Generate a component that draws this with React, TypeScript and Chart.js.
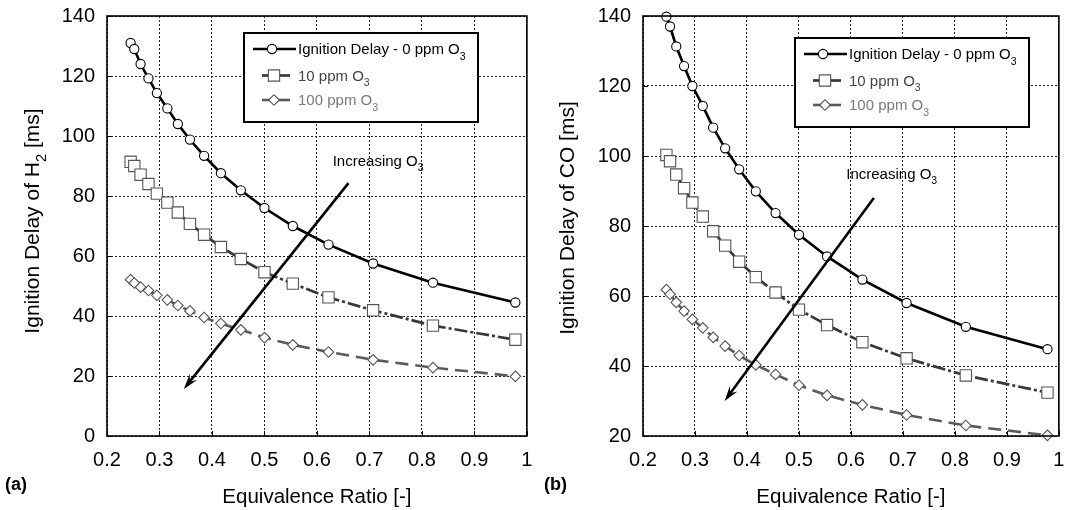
import React, { useEffect, useRef } from "react";
import { Chart, registerables } from "chart.js";

Chart.register(...registerables);

const FONT = '"Liberation Sans", Arial, Helvetica, sans-serif';

// ---------------- data ----------------
const phi = [0.245, 0.252, 0.264, 0.279, 0.295, 0.315, 0.335, 0.358, 0.385, 0.417, 0.455, 0.5, 0.554, 0.622, 0.707, 0.821, 0.978];

const h2_0ppm = [131, 129, 124, 119.2, 114.3, 109.2, 104, 98.8, 93.4, 87.6, 81.9, 76, 70, 63.8, 57.5, 51.1, 44.5];
const h2_10ppm = [91.4, 90, 87.1, 84, 80.8, 77.8, 74.5, 70.7, 67.1, 63, 59, 54.6, 50.8, 46.2, 41.9, 36.8, 32.1];
const h2_100ppm = [52.1, 51, 49.6, 48.5, 46.9, 45.4, 43.5, 41.7, 39.5, 37.5, 35.4, 32.8, 30.4, 28, 25.4, 22.8, 19.9];

const co_0ppm = [139.8, 137, 131.3, 125.7, 120, 114.3, 108.1, 102.2, 96.2, 89.9, 83.7, 77.5, 71.3, 64.7, 58, 51.2, 44.8];
const co_10ppm = [100.3, 98.5, 94.7, 90.8, 86.7, 82.7, 78.5, 74.4, 69.8, 65.4, 61, 56.1, 51.7, 46.8, 42.2, 37.3, 32.4];
const co_100ppm = [61.8, 60.5, 58.2, 55.7, 53.3, 50.9, 48.2, 45.7, 43, 40.3, 37.6, 34.5, 31.6, 28.9, 26, 23, 20.2];

const xTickValues = [0.2, 0.3, 0.4, 0.5, 0.6, 0.7, 0.8, 0.9, 1];
const yTicksH2 = [0, 20, 40, 60, 80, 100, 120, 140];
const yTicksCO = [20, 40, 60, 80, 100, 120, 140];

const seriesLabels = ["Ignition Delay - 0 ppm O", "10 ppm O", "100 ppm O"];
const seriesSub = "3";

// arrow "Increasing O3" endpoints (data units: [start, end])
const arrowH2X = [0.66, 0.3465];
const arrowH2Y = [84.3, 15.7];
const arrowCOX = [0.644, 0.357];
const arrowCOY = [88, 30];
// note anchor (left edge, middle) in data units
const noteH2 = [0.63, 91.8];
const noteCO = [0.591, 95.1];

// ---------------- helpers ----------------
type Part = { t: string; sub?: boolean };

function partsWidth(ctx: CanvasRenderingContext2D, parts: Part[], size: number, weight = "normal") {
  let w = 0;
  for (const p of parts) {
    ctx.font = `${weight} ${p.sub ? size * 0.7 : size}px ${FONT}`;
    w += ctx.measureText(p.t).width;
  }
  return w;
}

function drawParts(
  ctx: CanvasRenderingContext2D,
  parts: Part[],
  x: number,
  yMid: number,
  size: number,
  color: string,
  align: "left" | "center" = "left",
  weight = "normal"
) {
  const total = partsWidth(ctx, parts, size, weight);
  let cx = align === "center" ? x - total / 2 : x;
  const base = yMid + size * 0.36;
  ctx.fillStyle = color;
  ctx.textAlign = "left";
  ctx.textBaseline = "alphabetic";
  for (const p of parts) {
    const s = p.sub ? size * 0.7 : size;
    ctx.font = `${weight} ${s}px ${FONT}`;
    ctx.fillText(p.t, cx, p.sub ? base + size * 0.36 : base);
    cx += ctx.measureText(p.t).width;
  }
}

const STYLES = [
  { line: "#000000", width: 2.6, dash: [] as number[], point: "circle", r: 4.6, pColor: "#000000", text: "#000000" },
  { line: "#383838", width: 2.7, dash: [13, 3, 3, 3], point: "rect", r: 8, pColor: "#555555", text: "#444444" },
  { line: "#5a5a5a", width: 2.6, dash: [13, 7], point: "rectRot", r: 5.3, pColor: "#555555", text: "#7a7a7a" },
];

function drawMarker(ctx: CanvasRenderingContext2D, style: string, x: number, y: number, r: number, color: string) {
  ctx.beginPath();
  if (style === "circle") {
    ctx.arc(x, y, r, 0, Math.PI * 2);
  } else if (style === "rect") {
    const s = Math.SQRT1_2 * r;
    ctx.rect(x - s, y - s, 2 * s, 2 * s);
  } else {
    ctx.moveTo(x - r, y);
    ctx.lineTo(x, y - r);
    ctx.lineTo(x + r, y);
    ctx.lineTo(x, y + r);
    ctx.closePath();
  }
  ctx.fillStyle = "#ffffff";
  ctx.fill();
  ctx.lineWidth = 1.1;
  ctx.strokeStyle = color;
  ctx.stroke();
}

type PanelSpec = {
  series: number[][];
  yMin: number;
  yMax: number;
  yTicks: number[];
  yTitle: Part[];
  yTitleX: number;
  yTitleY: number;
  panelLabel: string;
  panelLabelX: number;
  arrowX: number[];
  arrowY: number[];
  note: number[];
  legendDX: number;
  legendDY: number;
  plotLeft: number;
  plotRight: number;
};

const PLOT_TOP = 16;
const PLOT_BOTTOM = 436;
const H = 510;

function overlayPlugin(p: PanelSpec) {
  return {
    id: "overlay",
    afterDatasetsDraw(chart: any) {
      const ctx: CanvasRenderingContext2D = chart.ctx;
      const ca = chart.chartArea;
      const xs = chart.scales.x;
      const ys = chart.scales.y;
      ctx.save();
      // inner tick marks
      ctx.strokeStyle = "#000";
      ctx.lineWidth = 1;
      ctx.beginPath();
      for (const v of xTickValues) {
        const px = Math.round(xs.getPixelForValue(v)) + 0.5;
        ctx.moveTo(px, ca.bottom);
        ctx.lineTo(px, ca.bottom - 5);
      }
      for (const v of p.yTicks) {
        const py = Math.round(ys.getPixelForValue(v)) + 0.5;
        ctx.moveTo(ca.left, py);
        ctx.lineTo(ca.left + 5, py);
      }
      ctx.stroke();
      // frame
      ctx.lineWidth = 1.6;
      ctx.strokeStyle = "#000";
      ctx.strokeRect(ca.left, ca.top, ca.right - ca.left, ca.bottom - ca.top);

      // arrow
      const x1 = xs.getPixelForValue(p.arrowX[0]);
      const y1 = ys.getPixelForValue(p.arrowY[0]);
      const x2 = xs.getPixelForValue(p.arrowX[1]);
      const y2 = ys.getPixelForValue(p.arrowY[1]);
      const ang = Math.atan2(y2 - y1, x2 - x1);
      const L = 16;
      const w = 0.3;
      ctx.lineWidth = 2.6;
      ctx.beginPath();
      ctx.moveTo(x1, y1);
      ctx.lineTo(x2 - 8 * Math.cos(ang), y2 - 8 * Math.sin(ang));
      ctx.stroke();
      ctx.beginPath();
      ctx.moveTo(x2, y2);
      ctx.lineTo(x2 - L * Math.cos(ang - w), y2 - L * Math.sin(ang - w));
      ctx.lineTo(x2 - 0.6 * L * Math.cos(ang), y2 - 0.6 * L * Math.sin(ang));
      ctx.lineTo(x2 - L * Math.cos(ang + w), y2 - L * Math.sin(ang + w));
      ctx.closePath();
      ctx.fillStyle = "#000";
      ctx.fill();

      // note
      drawParts(
        ctx,
        [{ t: "Increasing O" }, { t: "3", sub: true }],
        xs.getPixelForValue(p.note[0]),
        ys.getPixelForValue(p.note[1]),
        15,
        "#000"
      );
      ctx.restore();
    },
    afterDraw(chart: any) {
      const ctx: CanvasRenderingContext2D = chart.ctx;
      const ca = chart.chartArea;
      ctx.save();
      // legend
      const bx = ca.left + p.legendDX;
      const by = ca.top + p.legendDY;
      const bw = 234;
      const bh = 89;
      ctx.fillStyle = "#fff";
      ctx.fillRect(bx, by, bw, bh);
      ctx.strokeStyle = "#000";
      ctx.lineWidth = 2;
      ctx.strokeRect(bx, by, bw, bh);
      const rows = [16, 42.5, 67];
      for (let i = 0; i < 3; i++) {
        const st = STYLES[i];
        const y = by + rows[i];
        const l0 = i === 0 ? 9 : 18;
        const l1 = i === 0 ? 52 : 46;
        const mx = i === 0 ? 28 : 30;
        ctx.strokeStyle = st.line;
        ctx.lineWidth = st.width;
        ctx.setLineDash([]);
        ctx.beginPath();
        ctx.moveTo(bx + l0, y);
        ctx.lineTo(bx + l1, y);
        ctx.stroke();
        drawMarker(ctx, st.point, bx + mx, y, st.r, st.pColor);
        drawParts(ctx, [{ t: seriesLabels[i] }, { t: seriesSub, sub: true }], bx + 54, y, 15, st.text);
      }
      // axis titles
      drawParts(ctx, [{ t: "Equivalence Ratio [-]" }], (ca.left + ca.right) / 2, 496, 20.5, "#000", "center");
      ctx.save();
      ctx.translate(p.yTitleX, p.yTitleY);
      ctx.rotate(-Math.PI / 2);
      drawParts(ctx, p.yTitle, 0, 0, 21, "#000", "center");
      ctx.restore();
      // panel label
      drawParts(ctx, [{ t: p.panelLabel }], p.panelLabelX, 484, 18, "#000", "left", "bold");
      ctx.restore();
    },
  };
}

function buildConfig(p: PanelSpec, canvasWidth: number): any {
  const datasets = p.series.map((vals, i) => {
    const st = STYLES[i];
    return {
      label: seriesLabels[i] + seriesSub,
      data: phi.map((x, j) => ({ x, y: vals[j] })),
      showLine: true,
      tension: 0,
      borderColor: st.line,
      borderWidth: st.width,
      borderDash: st.dash,
      pointStyle: st.point,
      pointRadius: st.r,
      pointHoverRadius: st.r,
      pointBackgroundColor: "#ffffff",
      pointBorderColor: st.pColor,
      pointBorderWidth: 1.1,
      clip: false,
    };
  });
  const tickFont = { family: FONT, size: 20 };
  return {
    type: "scatter",
    data: { datasets },
    options: {
      responsive: false,
      maintainAspectRatio: false,
      animation: false,
      events: [],
      devicePixelRatio: 1,
      layout: { padding: { left: 0, top: PLOT_TOP, right: canvasWidth - p.plotRight, bottom: 0 } },
      plugins: { legend: { display: false }, tooltip: { enabled: false }, title: { display: false } },
      scales: {
        x: {
          type: "linear",
          min: 0.2,
          max: 1,
          afterBuildTicks: (s: any) => {
            s.ticks = xTickValues.map((v) => ({ value: v }));
          },
          afterFit: (s: any) => {
            s.height = H - PLOT_BOTTOM;
            s.paddingLeft = 0;
            s.paddingRight = 0;
          },
          ticks: {
            color: "#000",
            font: tickFont,
            padding: 12,
            maxRotation: 0,
            autoSkip: false,
            callback: (v: any) => String(Math.round(Number(v) * 10) / 10),
          },
          grid: { color: "#222", lineWidth: 1, drawTicks: false },
          border: { display: false, dash: [2, 2] },
        },
        y: {
          type: "linear",
          min: p.yMin,
          max: p.yMax,
          afterBuildTicks: (s: any) => {
            s.ticks = p.yTicks.map((v) => ({ value: v }));
          },
          afterFit: (s: any) => {
            s.width = p.plotLeft;
            s.paddingTop = 0;
            s.paddingBottom = 0;
          },
          ticks: { color: "#000", font: tickFont, padding: 12, autoSkip: false },
          grid: { color: "#222", lineWidth: 1, drawTicks: false },
          border: { display: false, dash: [2, 2] },
        },
      },
    },
    plugins: [overlayPlugin(p)],
  };
}

const panelA: PanelSpec = {
  series: [h2_0ppm, h2_10ppm, h2_100ppm],
  yMin: 0,
  yMax: 140,
  yTicks: yTicksH2,
  yTitle: [{ t: "Ignition Delay of H" }, { t: "2", sub: true }, { t: " [ms]" }],
  yTitleX: 31,
  yTitleY: 221,
  panelLabel: "(a)",
  panelLabelX: 5,
  arrowX: arrowH2X,
  arrowY: arrowH2Y,
  note: noteH2,
  legendDX: 137,
  legendDY: 17,
  plotLeft: 107,
  plotRight: 527,
};

const panelB: PanelSpec = {
  series: [co_0ppm, co_10ppm, co_100ppm],
  yMin: 20,
  yMax: 140,
  yTicks: yTicksCO,
  yTitle: [{ t: "Ignition Delay of CO [ms]" }],
  yTitleX: 30,
  yTitleY: 218,
  panelLabel: "(b)",
  panelLabelX: 8,
  arrowX: arrowCOX,
  arrowY: arrowCOY,
  note: noteCO,
  legendDX: 152,
  legendDY: 22,
  plotLeft: 107,
  plotRight: 526,
};

function Panel({ spec, left, width }: { spec: PanelSpec; left: number; width: number }) {
  const ref = useRef<HTMLCanvasElement>(null);
  useEffect(() => {
    const chart = new Chart(ref.current as HTMLCanvasElement, buildConfig(spec, width));
    return () => chart.destroy();
  }, []);
  return (
    <canvas
      ref={ref}
      width={width}
      height={H}
      style={{ position: "absolute", left, top: 0, width, height: H, display: "block" }}
    />
  );
}

export default function App() {
  return (
    <div style={{ position: "absolute", left: 0, top: 0, width: 1068, height: H, background: "#fff", overflow: "hidden" }}>
      <Panel spec={panelA} left={0} width={536} />
      <Panel spec={panelB} left={536} width={532} />
    </div>
  );
}
